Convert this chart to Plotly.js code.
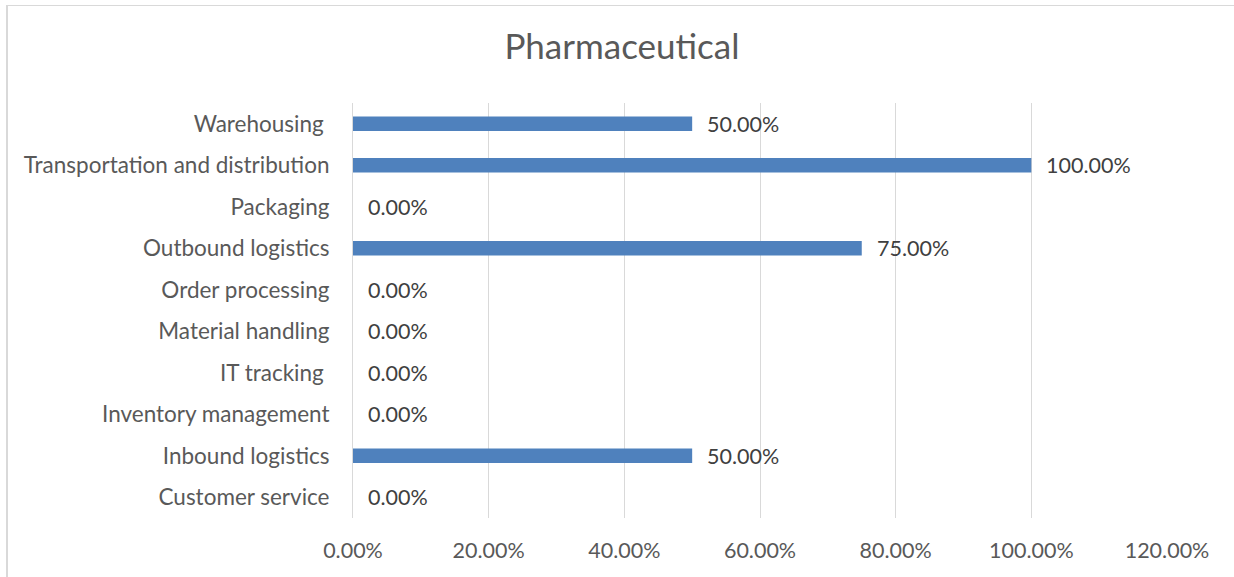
<!DOCTYPE html>
<html>
<head>
<meta charset="utf-8">
<script src="https://cdn.plot.ly/plotly-3.0.1.min.js"></script>
<style>
  html, body { margin: 0; padding: 0; background: #fff; overflow: hidden; }
  #frame { position: absolute; left: 6px; top: 5px; width: 1240px; height: 590px;
           border-left: 2px solid #d9d9d9; border-top: 1px solid #d9d9d9; box-sizing: border-box; }
  #chart { position: absolute; left: 0; top: 0; width: 1234px; height: 577px; }
</style>
</head>
<body>
<div id="frame"></div>
<div id="chart"></div>
<script>
// Share of pharmaceutical firms outsourcing each logistics activity
const categories = [
  'Customer service',
  'Inbound logistics',
  'Inventory management',
  'IT tracking\u00a0',
  'Material handling',
  'Order processing',
  'Outbound logistics',
  'Packaging',
  'Transportation and distribution',
  'Warehousing\u00a0'
];
const shares = [0, 50, 0, 0, 0, 0, 75, 0, 100, 50];
const tickValues = [0, 20, 40, 60, 80, 100, 120];
const tickLabels = ['0.00%', '20.00%', '40.00%', '60.00%', '80.00%', '100.00%', '120.00%'];

const FONT = 'Lato, "Open Sans", sans-serif';

const trace = {
  type: 'bar',
  orientation: 'h',
  y: categories,
  x: shares,
  width: 0.345,
  marker: { color: '#4f81bd' },
  hoverinfo: 'skip'
};

const valueLabels = shares.map((v, i) => ({
  x: v,
  y: categories[i],
  xref: 'x',
  yref: 'y',
  text: v.toFixed(2) + '%',
  showarrow: false,
  xanchor: 'left',
  yanchor: 'middle',
  xshift: 13,
  font: { family: FONT, size: 21.5, color: '#404040' }
}));

const layout = {
  width: 1234,
  height: 577,
  margin: { l: 353, r: 67, t: 103, b: 59 },
  paper_bgcolor: 'rgba(0,0,0,0)',
  plot_bgcolor: 'rgba(0,0,0,0)',
  showlegend: false,
  title: {
    text: 'Pharmaceutical',
    font: { family: FONT, size: 35, color: '#595959' },
    x: 0.504,
    xanchor: 'center',
    y: 1 - 47 / 577,
    yanchor: 'middle'
  },
  xaxis: {
    range: [0, 120],
    tickvals: tickValues,
    ticktext: tickLabels,
    showgrid: true,
    gridcolor: '#d9d9d9',
    gridwidth: 1,
    zeroline: false,
    showline: false,
    ticks: '',
    ticklabelstandoff: 17,
    tickfont: { family: FONT, size: 21.5, color: '#595959' },
    fixedrange: true
  },
  yaxis: {
    type: 'category',
    categoryorder: 'array',
    categoryarray: categories,
    showgrid: false,
    zeroline: false,
    showline: true,
    linecolor: '#d9d9d9',
    linewidth: 1,
    ticks: '',
    ticklabelstandoff: 18,
    tickfont: { family: FONT, size: 22.5, color: '#595959' },
    fixedrange: true
  },
  annotations: valueLabels
};

Plotly.newPlot('chart', [trace], layout, { displayModeBar: false, staticPlot: true });
</script>
</body>
</html>
